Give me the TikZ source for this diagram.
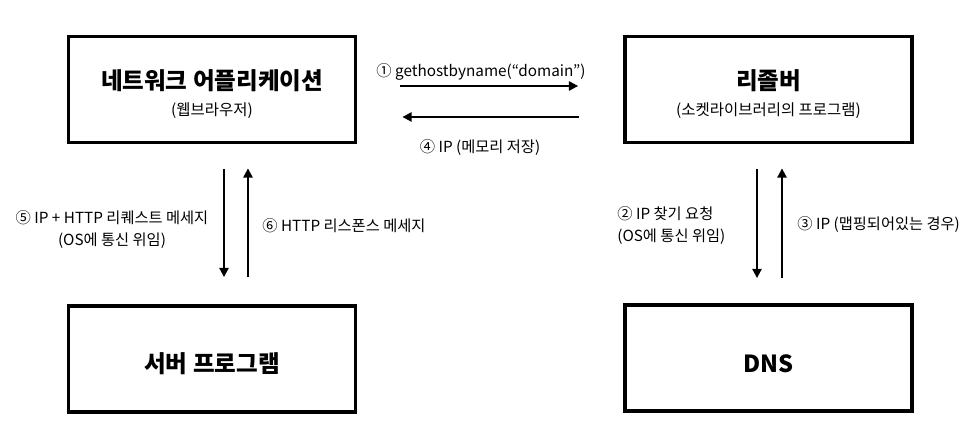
\documentclass[tikz,border=0pt]{standalone}
\usepackage{fontspec}
\setmainfont{Noto Sans CJK KR}
\usetikzlibrary{arrows.meta,positioning}

\tikzset{
	unitbox/.style={draw, line width=2.2pt, minimum width=5.74cm, minimum height=2.12cm,
		inner sep=0pt, align=center, font=\fontsize{8.8}{15}\selectfont},
	flow/.style={line width=1.1pt, -{Triangle[length=5.2pt, width=5.2pt]}},
	lbl/.style={inner sep=0pt, font=\fontsize{8.7}{12.5}\selectfont}
}
\newcommand{\boxtitle}[1]{{\fontsize{13.4}{15}\selectfont\bfseries\rule{0pt}{16.5pt}#1}}

\begin{document}
\begin{tikzpicture}[x=0.02cm, y=-0.02cm]
			\useasboundingbox (0,0) rectangle (976,448);
			
			% Programs and servers
			\node[unitbox] (app) at (212,89.5) {\boxtitle{네트워크 어플리케이션}\\(웹브라우저)};
			\node[unitbox] (resolver) at (768.5,89.5) {\boxtitle{리졸버}\\(소켓라이브러리의 프로그램)};
			\node[unitbox] (server) at (212,359) {\boxtitle{서버 프로그램}};
			\node[unitbox] (dns) at (768.5,358) {\boxtitle{DNS}};
			
			% Name lookup
			\draw[flow, shorten <=0.86cm, shorten >=0.9cm] ([yshift=0.07cm]app.east) -- ([yshift=0.07cm]resolver.west);
			\draw[flow, shorten <=0.88cm, shorten >=0.9cm] ([yshift=-0.55cm]resolver.west) -- ([yshift=-0.55cm]app.east);
			\node[lbl] (call) at (481,72) {① gethostbyname(“domain”)};
			\node[lbl] (ret) at (480,148) {④ IP (메모리 저장)};
			
			% Resolver <-> DNS
			\draw[flow, shorten <=0.5cm, shorten >=0.5cm] ([xshift=-0.23cm]resolver.south) -- ([xshift=-0.23cm]dns.north);
			\draw[flow, shorten <=0.5cm, shorten >=0.48cm] ([xshift=0.27cm]dns.north) -- ([xshift=0.27cm]resolver.south);
			\node[lbl, align=left, anchor=west] (ask) at (617,226) {② IP 찾기 요청\\(OS에 통신 위임)};
			\node[lbl, anchor=west] (found) at (797,225) {③ IP (맵핑되어있는 경우)};
			
			% Application <-> server
			\draw[flow, shorten <=0.5cm, shorten >=0.54cm] ([xshift=0.24cm]app.south) -- ([xshift=0.24cm]server.north);
			\draw[flow, shorten <=0.54cm, shorten >=0.48cm] ([xshift=0.72cm]server.north) -- ([xshift=0.72cm]app.south);
			\node[lbl, align=center] (req) at (112,230) {⑤ IP + HTTP 리퀘스트 메세지\\(OS에 통신 위임)};
			\node[lbl, anchor=west] (resp) at (262,226) {⑥ HTTP 리스폰스 메세지};
\end{tikzpicture}
\end{document}
